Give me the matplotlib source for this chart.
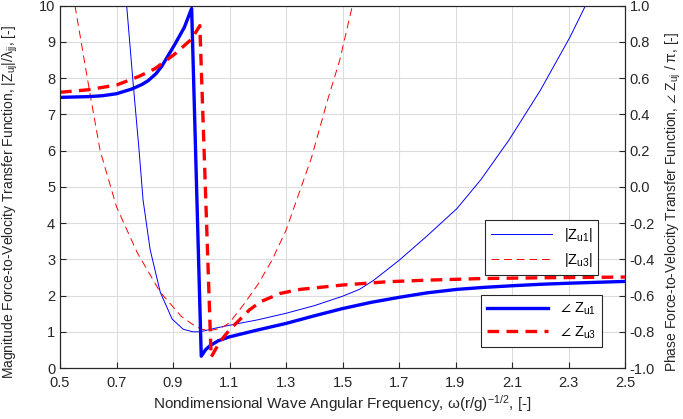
import numpy as np
import matplotlib
matplotlib.use('Agg')
import matplotlib.pyplot as plt

plt.rcParams['font.family'] = ['Liberation Sans', 'DejaVu Sans']
plt.rcParams['mathtext.fontset'] = 'custom'
plt.rcParams['mathtext.rm'] = 'Liberation Sans'
plt.rcParams['mathtext.it'] = 'Liberation Sans:italic'
plt.rcParams['mathtext.default'] = 'regular'

# |Z_u1| (thin blue, left axis)
x_mag1 = [0.736, 0.759, 0.78, 0.794, 0.819, 0.855, 0.897, 0.936, 0.97, 0.996, 1.05, 1.10, 1.20,
          1.30, 1.40, 1.50, 1.56, 1.61, 1.70, 1.80, 1.905, 1.99, 2.09, 2.20, 2.305, 2.36]
y_mag1 = [10.0, 7.85, 6.0, 4.64, 3.27, 2.09, 1.35, 1.07, 1.0, 1.0, 1.1, 1.18, 1.33,
          1.51, 1.72, 1.98, 2.17, 2.42, 2.97, 3.65, 4.4, 5.2, 6.3, 7.66, 9.13, 10.0]

# |Z_u3| (thin red dashed, left axis)
x_mag3 = [0.553, 0.606, 0.642, 0.70, 0.773, 0.855, 0.93, 0.97, 1.0, 1.03, 1.07, 1.10,
          1.15, 1.20, 1.25, 1.30, 1.39, 1.447, 1.49, 1.535]
y_mag3 = [10.0, 7.58, 6.0, 4.45, 3.19, 2.09, 1.42, 1.2, 1.07, 1.03, 1.1, 1.25,
          1.75, 2.3, 2.97, 3.8, 5.8, 7.39, 8.49, 10.0]

# phase Z_u1 / pi (thick blue, right axis)
x_ph1 = [0.5, 0.6, 0.65, 0.7, 0.754, 0.79, 0.812, 0.84, 0.86, 0.907, 0.94, 0.966, 1.0, 1.015, 1.03,
         1.06, 1.10, 1.20, 1.30, 1.40, 1.50, 1.60, 1.70, 1.80, 1.905, 2.0, 2.1, 2.2, 2.3, 2.4, 2.5]
y_ph1 = [0.494, 0.498, 0.503, 0.514, 0.54, 0.565, 0.586, 0.625, 0.665, 0.788, 0.88, 0.985, -0.935,
         -0.9, -0.878, -0.85, -0.828, -0.79, -0.754, -0.712, -0.672, -0.638, -0.61, -0.585, -0.566,
         -0.555, -0.546, -0.538, -0.532, -0.527, -0.522]

# phase Z_u3 / pi (thick red dashed, right axis)
x_ph3 = [0.5, 0.6, 0.7, 0.777, 0.836, 0.907, 0.966, 0.995, 1.035, 1.066, 1.10, 1.17, 1.21, 1.28,
         1.35, 1.50, 1.657, 1.8, 2.0, 2.2, 2.5]
y_ph3 = [0.522, 0.536, 0.562, 0.608, 0.652, 0.734, 0.816, 0.89, -0.94, -0.855, -0.79, -0.68, -0.634,
         -0.588, -0.566, -0.542, -0.524, -0.515, -0.506, -0.502, -0.498]

fig = plt.figure(figsize=(6.83, 4.19), dpi=100)
ax = fig.add_axes([60 / 683, 1 - 368 / 419, 565 / 683, 362.3 / 419])
ax2 = ax.twinx()

axc = '#262626'
l1, = ax.plot(x_mag1, y_mag1, color='#0000ff', lw=0.7, label=r'$|Z_{u1}|$')
l2, = ax.plot(x_mag3, y_mag3, color='#ff0000', lw=0.7, dashes=(8, 5), label=r'$|Z_{u3}|$')
l3, = ax2.plot(x_ph1, y_ph1, color='#0000ff', lw=2.4, label=r'$\angle\ Z_{u1}$')
l4, = ax2.plot(x_ph3, y_ph3, color='#ff0000', lw=2.4, dashes=(3.5, 2.2), label=r'$\angle\ Z_{u3}$')

ax.set_xlim(0.5, 2.5)
ax.set_ylim(0, 10)
ax2.set_ylim(-1, 1)
xt = np.round(np.arange(0.5, 2.51, 0.2), 1)
ax.set_xticks(xt)
ax.set_xticklabels(['%.1f' % v for v in xt])
ax.set_yticks(np.arange(0, 11, 1))
yt2 = np.round(np.arange(-1, 1.01, 0.2), 1)
ax2.set_yticks(yt2)
ax2.set_yticklabels(['%.1f' % (v + 0.0) for v in yt2])

ax.grid(True, color='#dcdcdc', lw=0.8)
ax.set_axisbelow(True)
for a in (ax, ax2):
    a.tick_params(direction='in', length=4, width=0.8, colors=axc, labelsize=10.5, labelcolor=axc)
    for s in a.spines.values():
        s.set_color(axc)
        s.set_linewidth(0.8)
ax.tick_params(axis='x', pad=6)

ax.set_xlabel(r'Nondimensional Wave Angular Frequency, $\omega$(r/g)$^{-1/2}$, [-]',
              fontsize=11, color=axc, labelpad=2)
ax.set_ylabel(r'Magnitude Force-to-Velocity Transfer Function, $|Z_{uj}|/\lambda_{jj}$, [-]',
              fontsize=10, color=axc)
ax.yaxis.set_label_coords(-0.07, 0.458)
ax2.set_ylabel(r'Phase Force-to-Velocity Transfer Function, $\angle\ Z_{uj}$ / $\pi$, [-]',
               fontsize=10, color=axc)
ax2.yaxis.set_label_coords(1.068, 0.458)

leg1 = ax2.legend(handles=[l1, l2], loc='upper right', bbox_to_anchor=(0.966, 0.428),
                  fancybox=False, framealpha=1, edgecolor=axc, fontsize=10.5,
                  handlelength=4.2, borderpad=0.4, labelspacing=0.5)
leg1.get_frame().set_linewidth(0.8)
ax2.add_artist(leg1)
leg2 = ax2.legend(handles=[l3, l4], loc='lower right', bbox_to_anchor=(0.972, 0.039),
                  fancybox=False, framealpha=1, edgecolor=axc, fontsize=10.5,
                  handlelength=4.2, borderpad=0.4, labelspacing=0.5)
leg2.get_frame().set_linewidth(0.8)

fig.savefig('out.png', dpi=100)
